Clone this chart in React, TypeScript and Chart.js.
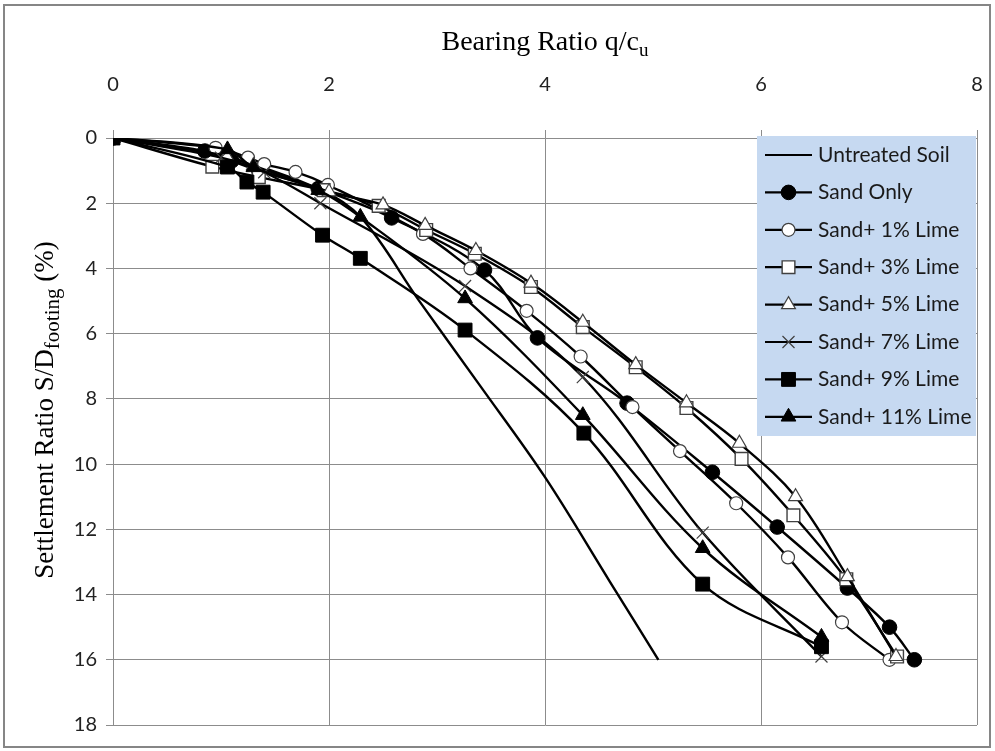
import React, { useEffect, useRef } from 'react';
import { Chart, registerables } from 'chart.js';

Chart.register(...registerables);

// ---------- DATA ----------
const xTickValues = [0, 2, 4, 6, 8];
const yTickValues = [0, 2, 4, 6, 8, 10, 12, 14, 16, 18];

const seriesNames = [
  'Untreated Soil',
  'Sand Only',
  'Sand+ 1% Lime',
  'Sand+ 3% Lime',
  'Sand+ 5% Lime',
  'Sand+ 7% Lime',
  'Sand+ 9% Lime',
  'Sand+ 11% Lime',
];

const untreatedX = [0, 1.0, 1.9, 2.3, 2.83, 3.4, 4.0, 4.6, 5.05];
const untreatedY = [0, 0.55, 1.55, 2.45, 4.97, 7.6, 10.4, 13.6, 16.0];

const sandOnlyX = [0, 0.85, 1.1, 1.35, 1.9, 2.58, 3.44, 3.93, 4.76, 5.55, 6.15, 6.8, 7.19, 7.42];
const sandOnlyY = [0, 0.4, 0.7, 1.0, 1.55, 2.45, 4.05, 6.13, 8.13, 10.25, 11.93, 13.8, 15.0, 16.0];

const lime1X = [0, 0.95, 1.25, 1.4, 1.69, 1.99, 2.87, 3.31, 3.83, 4.33, 4.81, 5.25, 5.77, 6.25, 6.75, 7.19];
const lime1Y = [0, 0.3, 0.6, 0.8, 1.04, 1.44, 2.94, 4.0, 5.3, 6.7, 8.25, 9.6, 11.2, 12.86, 14.85, 16.0];

const lime3X = [0, 0.92, 1.35, 1.95, 2.46, 2.9, 3.35, 3.87, 4.35, 4.84, 5.31, 5.82, 6.3, 6.79, 7.26];
const lime3Y = [0, 0.88, 1.2, 1.6, 2.08, 2.82, 3.55, 4.57, 5.8, 7.03, 8.28, 9.84, 11.57, 13.53, 15.9];

const lime5X = [0, 1.05, 1.3, 2.0, 2.5, 2.89, 3.36, 3.87, 4.35, 4.84, 5.31, 5.8, 6.32, 6.8, 7.25];
const lime5Y = [0, 0.55, 0.85, 1.65, 2.05, 2.68, 3.45, 4.45, 5.65, 6.95, 8.12, 9.36, 11.0, 13.45, 15.9];

const lime7X = [0, 1.0, 1.4, 1.92, 3.26, 4.35, 5.46, 6.56];
const lime7Y = [0, 0.6, 1.05, 2.0, 4.54, 7.33, 12.1, 15.9];

const lime9X = [0, 1.06, 1.24, 1.39, 1.94, 2.29, 3.26, 4.36, 5.46, 6.56];
const lime9Y = [0, 0.89, 1.35, 1.66, 2.98, 3.69, 5.89, 9.05, 13.68, 15.6];

const lime11X = [0, 1.06, 1.3, 1.9, 2.29, 3.26, 4.35, 5.46, 6.56];
const lime11Y = [0, 0.35, 0.9, 1.6, 2.42, 4.92, 8.5, 12.58, 15.3];

const seriesX = [untreatedX, sandOnlyX, lime1X, lime3X, lime5X, lime7X, lime9X, lime11X];
const seriesY = [untreatedY, sandOnlyY, lime1Y, lime3Y, lime5Y, lime7Y, lime9Y, lime11Y];

// ---------- STYLES ----------
type MarkerStyle = { shape: string; radius: number; fill: string; stroke: string; strokeWidth: number };
const markerStyles: MarkerStyle[] = [
  { shape: 'none', radius: 0, fill: '#000', stroke: '#000', strokeWidth: 0 },
  { shape: 'circle', radius: 7.3, fill: '#000', stroke: '#000', strokeWidth: 1 },
  { shape: 'circle', radius: 6.5, fill: '#fff', stroke: '#404040', strokeWidth: 1.2 },
  { shape: 'rect', radius: 9, fill: '#fff', stroke: '#404040', strokeWidth: 1.4 },
  { shape: 'triangle', radius: 8, fill: '#fff', stroke: '#404040', strokeWidth: 1.2 },
  { shape: 'crossRot', radius: 8.5, fill: '#fff', stroke: '#404040', strokeWidth: 1.2 },
  { shape: 'rect', radius: 9.8, fill: '#000', stroke: '#000', strokeWidth: 1 },
  { shape: 'triangle', radius: 8.5, fill: '#000', stroke: '#000', strokeWidth: 1 },
];

const GRID = '#8c8c8c';
const TICK_FONT = 'Lato';
const SERIF = '"Liberation Serif", "Times New Roman", serif';

function drawMarker(ctx: CanvasRenderingContext2D, m: MarkerStyle, x: number, y: number) {
  if (m.shape === 'none') return;
  ctx.save();
  ctx.fillStyle = m.fill;
  ctx.strokeStyle = m.stroke;
  ctx.lineWidth = m.strokeWidth;
  ctx.beginPath();
  const r = m.radius;
  if (m.shape === 'circle') {
    ctx.arc(x, y, r, 0, Math.PI * 2);
    ctx.fill();
    ctx.stroke();
  } else if (m.shape === 'rect') {
    const s = Math.SQRT1_2 * r;
    ctx.rect(x - s, y - s, 2 * s, 2 * s);
    ctx.fill();
    ctx.stroke();
  } else if (m.shape === 'triangle') {
    ctx.moveTo(x, y - r);
    ctx.lineTo(x + r * Math.cos(Math.PI / 6), y + r * Math.sin(Math.PI / 6));
    ctx.lineTo(x - r * Math.cos(Math.PI / 6), y + r * Math.sin(Math.PI / 6));
    ctx.closePath();
    ctx.fill();
    ctx.stroke();
  } else if (m.shape === 'crossRot') {
    const s = Math.SQRT1_2 * r;
    ctx.moveTo(x - s, y - s);
    ctx.lineTo(x + s, y + s);
    ctx.moveTo(x - s, y + s);
    ctx.lineTo(x + s, y - s);
    ctx.stroke();
  }
  ctx.restore();
}

type Part = { text: string; sub: boolean };
function drawRich(ctx: CanvasRenderingContext2D, parts: Part[], cx: number, baseline: number, size: number, subRatio: number) {
  const subSize = Math.round(size * subRatio);
  let total = 0;
  const widths = parts.map((p) => {
    ctx.font = `${p.sub ? subSize : size}px ${SERIF}`;
    const w = ctx.measureText(p.text).width;
    total += w;
    return w;
  });
  let x = cx - total / 2;
  ctx.textAlign = 'left';
  ctx.textBaseline = 'alphabetic';
  parts.forEach((p, i) => {
    ctx.font = `${p.sub ? subSize : size}px ${SERIF}`;
    ctx.fillText(p.text, x, baseline + (p.sub ? size * 0.22 : 0));
    x += widths[i];
  });
}

const overlayPlugin = {
  id: 'overlayPlugin',
  afterDraw(chart: any) {
    const ctx: CanvasRenderingContext2D = chart.ctx;
    const ca = chart.chartArea;
    ctx.save();
    // outer frame
    ctx.strokeStyle = '#868686';
    ctx.lineWidth = 2;
    ctx.strokeRect(4, 5, 986, 742);

    // x title
    ctx.fillStyle = '#000';
    drawRich(ctx, [{ text: 'Bearing Ratio q/c', sub: false }, { text: 'u', sub: true }], (ca.left + ca.right) / 2, 50, 28, 0.68);

    // y title (rotated)
    ctx.save();
    ctx.translate(53, 410);
    ctx.rotate(-Math.PI / 2);
    drawRich(
      ctx,
      [
        { text: 'Settlement Ratio S/D', sub: false },
        { text: 'footing', sub: true },
        { text: ' (%)', sub: false },
      ],
      0,
      0,
      27,
      0.76
    );
    ctx.restore();

    // legend
    const lx = 757, ly = 136, lw = 219, lh = 300;
    ctx.fillStyle = '#c6d9f1';
    ctx.fillRect(lx, ly, lw, lh);
    seriesNames.forEach((name, i) => {
      const y = 155 + i * 37.4;
      ctx.strokeStyle = '#000';
      ctx.lineWidth = 2.2;
      ctx.beginPath();
      ctx.moveTo(765, y);
      ctx.lineTo(812, y);
      ctx.stroke();
      drawMarker(ctx, markerStyles[i], 788.5, y);
      ctx.fillStyle = '#1a1a1a';
      ctx.font = `21px ${TICK_FONT}`;
      ctx.textAlign = 'left';
      ctx.textBaseline = 'middle';
      ctx.fillText(name, 818, y);
    });
    ctx.restore();
  },
};

export default function App() {
  const canvasRef = useRef<HTMLCanvasElement | null>(null);

  useEffect(() => {
    if (!canvasRef.current) return;
    const n = seriesNames.length;
    const datasets = seriesNames.map((name, i) => {
      const m = markerStyles[i];
      return {
        label: name,
        data: seriesX[i].map((x, k) => ({ x, y: seriesY[i][k] })),
        showLine: true,
        borderColor: '#000',
        borderWidth: 2.4,
        tension: 0.35,
        fill: false,
        order: n - i,
        pointStyle: m.shape === 'none' ? 'circle' : m.shape,
        pointRadius: m.radius,
        pointHoverRadius: m.radius,
        pointBackgroundColor: m.fill,
        pointBorderColor: m.stroke,
        pointBorderWidth: m.strokeWidth,
      };
    });

    const chart = new Chart(canvasRef.current, {
      type: 'scatter',
      data: { datasets } as any,
      options: {
        animation: false,
        responsive: true,
        maintainAspectRatio: false,
        layout: { padding: { left: 0, top: 0, right: 18, bottom: 26 } },
        plugins: {
          legend: { display: false },
          tooltip: { enabled: false },
          title: { display: false },
        },
        scales: {
          x: {
            type: 'linear',
            position: 'top',
            min: 0,
            max: 8,
            afterFit: (s: any) => {
              s.height = 138;
              s.paddingLeft = 0;
              s.paddingRight = 0;
            },
            afterBuildTicks: (s: any) => {
              s.ticks = xTickValues.map((v) => ({ value: v }));
            },
            ticks: {
              stepSize: 2,
              padding: 33,
              color: '#222',
              font: { family: TICK_FONT, size: 20 },
            },
            grid: { color: GRID, lineWidth: 1, tickLength: 8 },
            border: { color: GRID, width: 1 },
          },
          y: {
            type: 'linear',
            position: 'left',
            reverse: true,
            min: 0,
            max: 18,
            afterFit: (s: any) => {
              s.width = 113;
              s.paddingTop = 0;
              s.paddingBottom = 0;
            },
            afterBuildTicks: (s: any) => {
              s.ticks = yTickValues.map((v) => ({ value: v }));
            },
            ticks: {
              stepSize: 2,
              padding: 9,
              color: '#222',
              font: { family: TICK_FONT, size: 20 },
            },
            grid: { color: GRID, lineWidth: 1, tickLength: 7 },
            border: { color: GRID, width: 1 },
          },
        },
      } as any,
      plugins: [overlayPlugin],
    });
    return () => chart.destroy();
  }, []);

  return (
    <div style={{ position: 'absolute', left: 0, top: 0, width: 995, height: 751, background: '#fff' }}>
      <canvas ref={canvasRef} />
    </div>
  );
}
